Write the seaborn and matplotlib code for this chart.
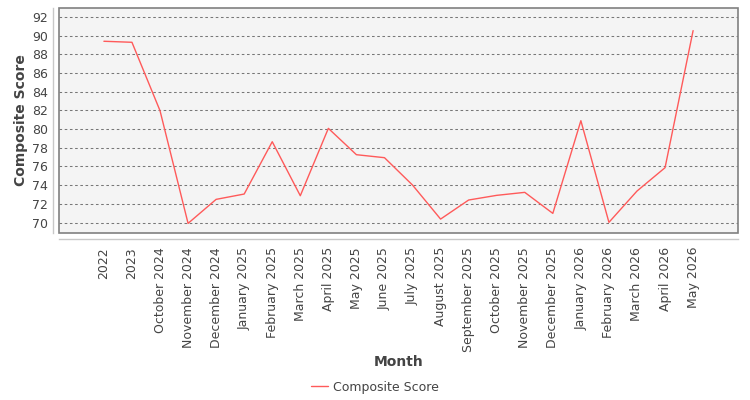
import matplotlib
matplotlib.use("Agg")
import matplotlib.pyplot as plt
from matplotlib.patches import Rectangle
import seaborn as sns
import pandas as pd

months = ["2022", "2023", "October 2024", "November 2024", "December 2024",
          "January 2025", "February 2025", "March 2025", "April 2025", "May 2025",
          "June 2025", "July 2025", "August 2025", "September 2025", "October 2025",
          "November 2025", "December 2025", "January 2026", "February 2026",
          "March 2026", "April 2026", "May 2026"]
scores = [89.40, 89.29, 81.97, 69.91, 72.48, 73.05, 78.65, 72.87, 80.08, 77.26,
          76.94, 74.01, 70.37, 72.41, 72.91, 73.23, 70.98, 80.90, 70.02, 73.37,
          75.87, 90.54]
y_ticks = list(range(70, 93, 2))

df = pd.DataFrame({"Month": months, "Composite Score": scores})

sns.set_style("white")
plt.rcParams['font.family'] = ['DejaVu Sans']

fig = plt.figure(figsize=(7.5, 4), dpi=100)
ax = fig.add_axes([59/750, 1 - 233/400, 679/750, 225/400])
ax.set_facecolor("#f4f4f4")

sns.lineplot(data=df, x="Month", y="Composite Score", sort=False,
             color="#ff5a5a", linewidth=1.0, label="Composite Score", ax=ax, legend=False)

ax.set_xlim(-1.6, len(months) - 1 + 1.6)
ax.set_ylim(68.88, 92.96)
ax.set_yticks(y_ticks)
ax.set_xticks(range(len(months)))
ax.set_xticklabels(months)
ax.tick_params(axis="x", labelrotation=90)

ax.yaxis.grid(True, linestyle=(0, (2.5, 2.5)), color="#777777", linewidth=0.75)
ax.xaxis.grid(False)

# plot outline
ax.add_patch(Rectangle((0, 0), 1, 1, transform=ax.transAxes, fill=False,
                       edgecolor="#808080", linewidth=1.2, clip_on=False, zorder=5))
for s in ["top", "right"]:
    ax.spines[s].set_visible(False)
for s in ["left", "bottom"]:
    ax.spines[s].set_position(("outward", 4))
    ax.spines[s].set_color("#c8c8c8")
    ax.spines[s].set_linewidth(1.0)

ax.tick_params(axis="x", length=4, color="#c8c8c8", labelsize=9, labelcolor="#444444", pad=2)
ax.tick_params(axis="y", length=2, color="#c8c8c8", labelsize=9, labelcolor="#444444", pad=2)

ax.set_xlabel("Month", fontsize=10, fontweight="bold", color="#444444")
ax.set_ylabel("Composite Score", fontsize=10, fontweight="bold", color="#444444")
ax.xaxis.set_label_coords(0.5, (233 - 362) / 225)
ax.xaxis.label.set_va("center")
ax.yaxis.set_label_coords((21 - 59) / 679, 0.5)
ax.yaxis.label.set_va("center")

handles, labels = ax.get_legend_handles_labels()
fig.legend(handles, labels, loc="center", bbox_to_anchor=(0.5, 1 - 387/400),
           frameon=False, fontsize=9, handlelength=1.4, handletextpad=0.4,
           labelcolor="#444444")

fig.savefig("out.png", dpi=100)
